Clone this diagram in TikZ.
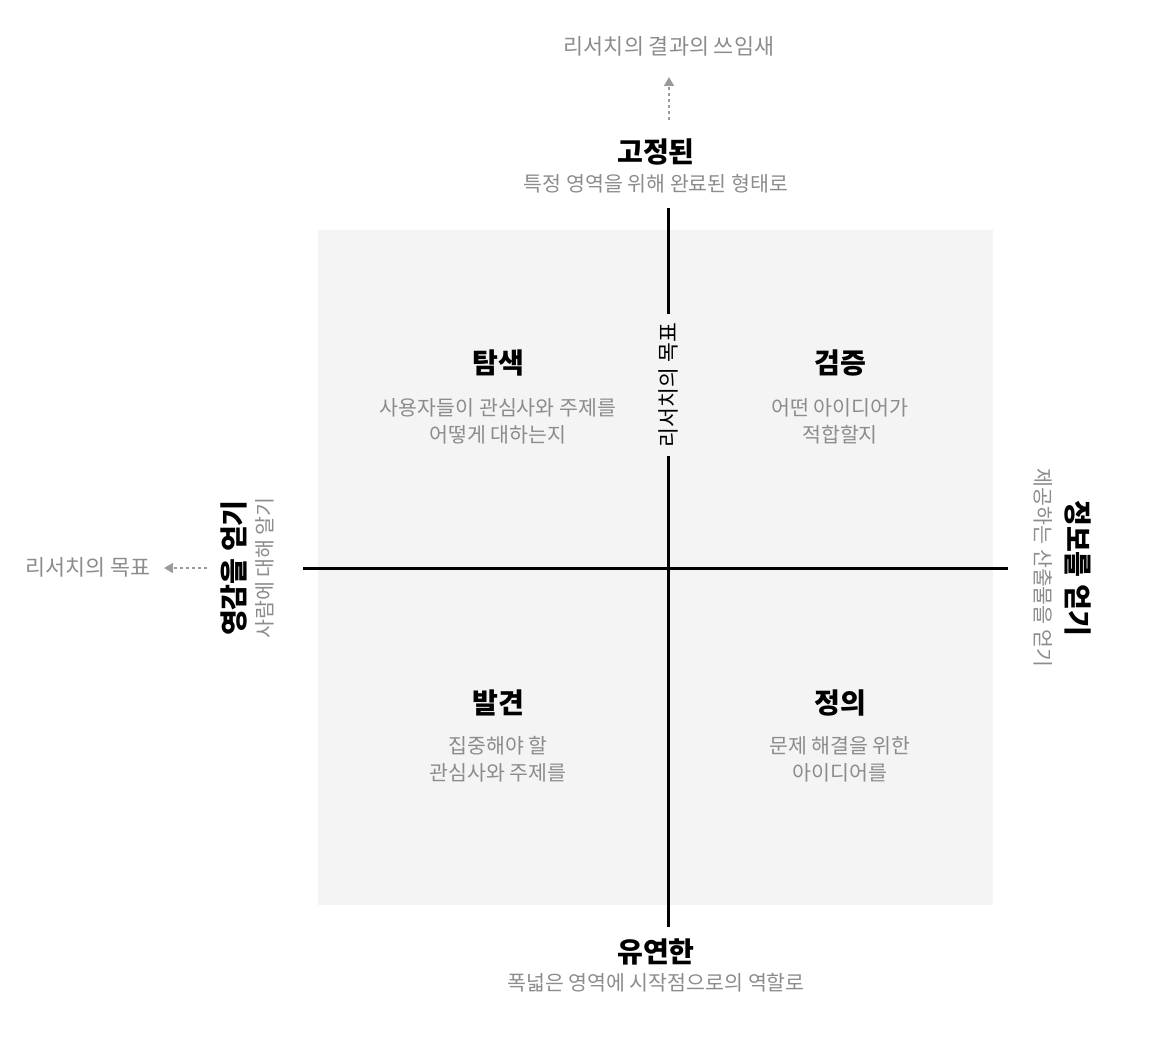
\documentclass[tikz,border=0pt]{standalone}
\usepackage{fontspec}
\setmainfont{Noto Sans CJK KR}
\usetikzlibrary{arrows.meta}

\definecolor{bggray}{HTML}{F4F4F4}
\definecolor{txtgray}{HTML}{8C8C8C}
\definecolor{arrgray}{HTML}{9A9A9A}

\tikzset{
  head/.style={font=\fontsize{16}{18}\selectfont\bfseries, inner sep=0pt},
  sub/.style={font=\fontsize{11.7}{15.3}\selectfont, text=txtgray, inner sep=0pt, align=center},
  hint/.style={font=\fontsize{12.4}{14}\selectfont, text=txtgray, inner sep=0pt},
  axis/.style={line width=1.7pt},
  goal/.style={arrgray, dash pattern=on 1.6pt off 1.8pt, line width=1pt, -{Triangle[width=5.5pt,length=5pt]}}
}

\begin{document}
\begin{tikzpicture}[x=0.02cm, y=-0.02cm]

  \useasboundingbox (0,0) rectangle (1152,1042);

  % background square
  \fill [bggray] (318,230) rectangle (993,905);

  % axes
  \node[font=\fontsize{12.3}{14}\selectfont, rotate=90, fill=bggray, inner sep=5pt] (mid) at (668,385) {리서치의 목표};
  \coordinate (vtop) at (668,208);
  \coordinate (vbot) at (668,927);
  \coordinate (hl) at (303,568);
  \coordinate (hr) at (1008,568);
  \draw[axis] (vtop) -- (mid.east) (mid.west) -- (vbot);
  \draw[axis] (hl) -- (hr);

  % top
  \node[hint] (usage) at (669,46) {리서치의 결과의 쓰임새};
  \coordinate (u1) at (669,120);
  \coordinate (u2) at (669,77);
  \draw[goal] (u1) -- (u2);
  \node[head] (fixed) at (656,152) {고정된};
  \node[sub] (fixedsub) at (656,184) {특정 영역을 위해 완료된 형태로};

  % bottom
  \node[head] (flex) at (656,952) {유연한};
  \node[sub] (flexsub) at (656,983) {폭넓은 영역에 시작점으로의 역할로};

  % left
  \node[hint] (goal) at (88,567) {리서치의 목표};
  \coordinate (g1) at (207,568);
  \coordinate (g2) at (164,568);
  \draw[goal] (g1) -- (g2);
  \node[head, rotate=90] (insp) at (234,568) {영감을 얻기};
  \node[sub, rotate=90] (inspsub) at (265,568) {사람에 대해 알기};

  % right
  \node[head, rotate=-90] (info) at (1078,568) {정보를 얻기};
  \node[sub, rotate=-90] (infosub) at (1043,568) {제공하는 산출물을 얻기};

  % quadrants
  \node[head] (explore) at (498,363) {탐색};
  \node[sub] (exploresub) at (498,421) {사용자들이 관심사와 주제를\\어떻게 대하는지};

  \node[head] (verify) at (840,363) {검증};
  \node[sub] (verifysub) at (840,421) {어떤 아이디어가\\적합할지};

  \node[head] (discover) at (498,703) {발견};
  \node[sub] (discoversub) at (498,759) {집중해야 할\\관심사와 주제를};

  \node[head] (define) at (840,703) {정의};
  \node[sub] (definesub) at (840,759) {문제 해결을 위한\\아이디어를};

\end{tikzpicture}
\end{document}
